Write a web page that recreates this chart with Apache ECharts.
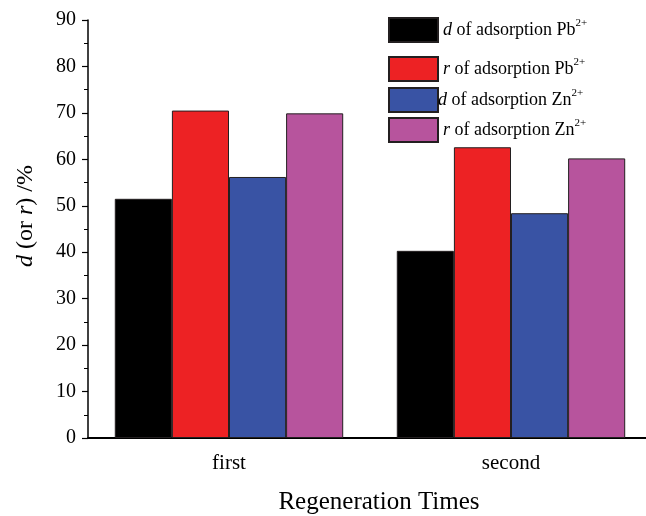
<!DOCTYPE html>
<html>
<head>
<meta charset="utf-8">
<script src="https://cdn.jsdelivr.net/npm/echarts@6/dist/echarts.min.js"></script>
<style>
  html, body { margin: 0; padding: 0; background: #fff; }
  #chart { width: 646px; height: 516px; }
</style>
</head>
<body>
<div id="chart"></div>
<script>
const categories = ['first', 'second']
const seriesNames = [
  'd of adsorption Pb2+',
  'r of adsorption Pb2+',
  'd of adsorption Zn2+',
  'r of adsorption Zn2+'
]
const dPb = [51.5, 40.3]
const rPb = [70.5, 62.6]
const dZn = [56.2, 48.4]
const rZn = [69.9, 60.2]
const yTicks = [0, 90, 10]

const colors = ['#000000', '#ED2224', '#3953A4', '#B7549D']
const font = '"Liberation Serif", "Times New Roman", serif'

const chart = echarts.init(document.getElementById('chart'))

const legendRich = {
  i: { fontFamily: font, fontSize: 18, fontStyle: 'italic', color: '#000' },
  t: { fontFamily: font, fontSize: 18, color: '#000' },
  s: { fontFamily: font, fontSize: 11, color: '#000', verticalAlign: 'top', padding: [0, 0, 14, 0] }
}
function legendLabel (name) {
  // "d of adsorption Pb2+" -> italic first letter, superscript charge
  const first = name.charAt(0)
  const body = name.slice(1, -2)
  const sup = name.slice(-2)
  return '{i|' + first + '}{t|' + body + '}{s|' + sup + '}'
}
const legendTops = [17, 56, 87, 117]

let option = {
  backgroundColor: '#fff',
  animation: false,
  legend: seriesNames.map((n, k) => ({
    data: [n],
    left: 388,
    top: legendTops[k],
    icon: 'rect',
    itemWidth: 49,
    itemHeight: 24,
    itemGap: 0,
    padding: 0,
    formatter: legendLabel,
    textStyle: { rich: legendRich, padding: [0, 0, 0, k === 2 ? -5 : 0] }
  })),
  grid: {
    left: 88,
    right: -6,
    top: 20,
    bottom: 78,
    outerBoundsMode: 'none'
  },
  xAxis: [{
    type: 'category',
    data: categories,
    name: 'Regeneration Times',
    nameLocation: 'middle',
    nameGap: 52,
    nameTextStyle: { fontFamily: font, fontSize: 25, color: '#000', padding: [0, 0, 0, 18] },
    axisLine: { lineStyle: { color: '#000', width: 2 } },
    axisTick: { alignWithLabel: true, length: 6, lineStyle: { color: '#000', width: 1.5 } },
    axisLabel: { fontFamily: font, fontSize: 21, color: '#000', margin: 15 }
  }, {
    type: 'category',
    data: categories,
    position: 'bottom',
    axisLine: { show: false },
    axisTick: { length: 3, lineStyle: { color: '#000', width: 1.2 } },
    axisLabel: { show: false }
  }],
  yAxis: {
    type: 'value',
    min: yTicks[0],
    max: yTicks[1],
    interval: yTicks[2],
    name: '{i|d} (or {i|r}) /%',
    nameLocation: 'middle',
    nameGap: 50,
    nameTextStyle: {
      fontFamily: font, fontSize: 24, color: '#000',
      padding: [0, 0, 0, 26],
      rich: { i: { fontFamily: font, fontSize: 24, fontStyle: 'italic', color: '#000' } }
    },
    axisLine: { show: true, lineStyle: { color: '#000', width: 1.5 } },
    axisTick: { show: true, length: 6, lineStyle: { color: '#000', width: 1.2 } },
    minorTick: { show: true, splitNumber: 2, length: 4, lineStyle: { color: '#000', width: 1 } },
    splitLine: { show: false },
    axisLabel: { fontFamily: font, fontSize: 20, color: '#000', margin: 12 }
  },
  series: [dPb, rPb, dZn, rZn].map((vals, k) => ({
    name: seriesNames[k],
    type: 'bar',
    data: vals,
    barGap: '0%',
    barCategoryGap: '19%',
    itemStyle: { color: colors[k], borderColor: '#231F20', borderWidth: 1 }
  }))
}

chart.setOption(option)
</script>
</body>
</html>
